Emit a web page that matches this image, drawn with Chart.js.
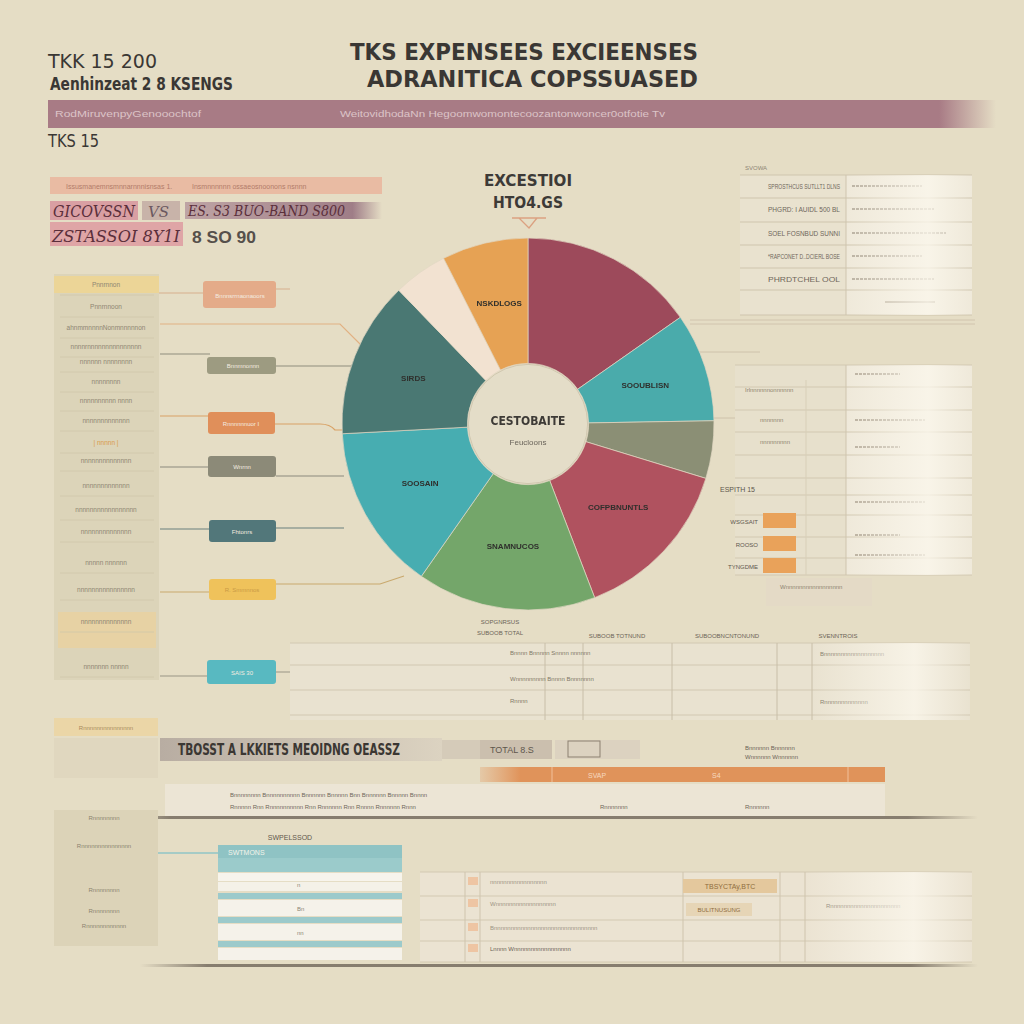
<!DOCTYPE html>
<html>
<head>
<meta charset="utf-8">
<title>TKS Expenses</title>
<script src="https://cdn.jsdelivr.net/npm/chart.js@4.4.1/dist/chart.umd.min.js"></script>
<style>
    html, body { margin: 0; padding: 0; }
    body {
        width: 1024px; height: 1024px; overflow: hidden; position: relative;
        background: #e5ddc5;
        font-family: "Liberation Sans", Arial, sans-serif;
    }
    #deco { position: absolute; left: 0; top: 0; }
    #pie { position: absolute; left: 328px; top: 224px; }
</style>
</head>
<body>
<svg id="deco" width="1024" height="1024" xmlns="http://www.w3.org/2000/svg">
    <defs>
        <linearGradient id="gPink" x1="0" x2="1">
            <stop offset="0" stop-color="#a87b85"/><stop offset="0.94" stop-color="#a87b85"/>
            <stop offset="1" stop-color="#a87b85" stop-opacity="0"/>
        </linearGradient>
        <linearGradient id="gMauve" x1="0" x2="1">
            <stop offset="0" stop-color="#b4959c" stop-opacity="0.8"/><stop offset="0.85" stop-color="#9f7d87"/>
            <stop offset="1" stop-color="#9f7d87" stop-opacity="0"/>
        </linearGradient>
        <linearGradient id="gGlow" x1="0" x2="1">
            <stop offset="0" stop-color="#fbf7ec" stop-opacity="0"/><stop offset="0.65" stop-color="#fbf7ec" stop-opacity="0.8"/>
            <stop offset="1" stop-color="#fbf7ec" stop-opacity="0"/>
        </linearGradient>
        <linearGradient id="gGray" x1="0" x2="1">
            <stop offset="0" stop-color="#b8ada2"/><stop offset="1" stop-color="#dcd3c1"/>
        </linearGradient>
        <linearGradient id="gShadow" x1="0" x2="1">
            <stop offset="0" stop-color="#675d52" stop-opacity="0"/><stop offset="0.08" stop-color="#675d52" stop-opacity="0.75"/>
            <stop offset="0.92" stop-color="#675d52" stop-opacity="0.75"/><stop offset="1" stop-color="#675d52" stop-opacity="0"/>
        </linearGradient>
        <linearGradient id="gOrange" x1="0" x2="1">
            <stop offset="0" stop-color="#e39a62" stop-opacity="0.3"/><stop offset="0.1" stop-color="#e0935a"/>
            <stop offset="1" stop-color="#e0935a"/>
        </linearGradient>
    </defs>

    <!-- heading -->
    <g font-family="'Liberation Sans Narrow','DejaVu Sans Condensed','Liberation Sans',sans-serif" fill="#3a3734">
        <text x="48" y="68" font-size="19" textLength="109" lengthAdjust="spacingAndGlyphs">TKK 15 200</text>
        <text x="50" y="90" font-size="17" font-weight="bold" textLength="183" lengthAdjust="spacingAndGlyphs">Aenhinzeat 2 8 KSENGS</text>
        <text x="350" y="60" font-size="23" font-weight="bold" textLength="348" lengthAdjust="spacingAndGlyphs">TKS  EXPENSEES EXCIEENSES</text>
        <text x="367" y="87" font-size="23" font-weight="bold" textLength="331" lengthAdjust="spacingAndGlyphs">ADRANITICA COPSSUASED</text>
        <text x="48" y="147" font-size="18" textLength="51" lengthAdjust="spacingAndGlyphs">TKS 15</text>
    </g>
    <rect x="48" y="100" width="948" height="28" fill="url(#gPink)"/>
    <g font-size="9" fill="#dcc3c7">
        <text x="55" y="117" textLength="146" lengthAdjust="spacingAndGlyphs">RodMiruvenpyGenooochtof</text>
        <text x="340" y="117" textLength="325" lengthAdjust="spacingAndGlyphs">WeitovidhodaNn Hegoomwomontecoozantonwoncer0otfotie  Tv</text>
    </g>

    <!-- top left summary -->
    <rect x="50" y="177" width="332" height="17" fill="#e9b79f" opacity="0.9"/>
    <g font-size="7" fill="#b27b6a">
        <text x="66" y="189">Issusmanemnsmnnarnnnisnsas  1.</text>
        <text x="192" y="189">Insmnnnnnn   ossaeosnoonons nsnnn</text>
    </g>
    <rect x="50" y="201" width="88" height="19" fill="#d99fa3"/>
    <rect x="142" y="201" width="38" height="19" fill="#c8b3a9"/>
    <rect x="185" y="202" width="197" height="17" fill="url(#gMauve)"/>
    <rect x="50" y="222" width="133" height="24" fill="#dfa5a6"/>
    <g font-family="'DejaVu Serif',serif" font-style="italic" fill="#5b2f3b">
        <text x="53" y="217" font-size="16" textLength="82" lengthAdjust="spacingAndGlyphs">GICOVSSN</text>
        <text x="148" y="217" font-size="15" fill="#6b5860">VS</text>
        <text x="188" y="216" font-size="14" textLength="157" lengthAdjust="spacingAndGlyphs">ES. S3   BUO-BAND S800</text>
        <text x="52" y="242" font-size="17" textLength="128" lengthAdjust="spacingAndGlyphs">ZSTASSOI 8Y1I</text>
    </g>
    <text x="192" y="243" font-size="17" font-weight="bold" fill="#56504b" textLength="64" lengthAdjust="spacingAndGlyphs">8 SO 90</text>

    <!-- chart header -->
    <g font-family="'Liberation Sans Narrow','DejaVu Sans Condensed',sans-serif" font-weight="bold" fill="#3d3a37" text-anchor="middle">
        <text x="528" y="186" font-size="16" textLength="88" lengthAdjust="spacingAndGlyphs">EXCESTIOI</text>
        <text x="528" y="208" font-size="15" textLength="70" lengthAdjust="spacingAndGlyphs">HTO4.GS</text>
    </g>
    <path d="M512 218 H546 M519 218 L529 228 L537 218" stroke="#dba181" stroke-width="1.3" fill="none"/>

    <!-- left panel -->
    <rect x="54" y="274" width="105" height="406" fill="#dcd4b9"/>
    <rect x="54" y="276" width="105" height="17" fill="#f0d58e" opacity="0.8"/>
    <rect x="58" y="612" width="98" height="36" fill="#f0cf94" opacity="0.55"/>
    <g id="leftRows"></g>

    <!-- connectors -->
    <g fill="none" stroke-width="1.2">
        <path d="M159 293 H203 M276 289 H290" stroke="#d8b08e"/>
        <path d="M160 324 H340 L362 346" stroke="#e1b183"/>
        <path d="M160 354 H210 M276 366 H352" stroke="#8f8d7e"/>
        <path d="M160 416 H208 M275 424 H320 Q330 424 335 430 H346" stroke="#d9a266"/>
        <path d="M160 467 H208 M276 476 H344" stroke="#8c8a7e"/>
        <path d="M160 529 H209 M276 528 H344" stroke="#6a807e"/>
        <path d="M160 592 H209 M276 584 H380 L404 576" stroke="#c9a96e"/>
        <path d="M160 676 H207 M276 672 H292 V700" stroke="#9a9585"/>
        <path d="M690 320 H975 M690 324 H975" stroke="#cdbfa8" stroke-width="0.8"/>
        <path d="M712 418 H745 M700 352 H760" stroke="#c9bca4" stroke-width="0.8"/>
    </g>
    <g>
        <rect x="203" y="281" width="73" height="27" rx="3" fill="#e4ab89"/>
        <rect x="207" y="357" width="69" height="17" rx="3" fill="#9d9b81"/>
        <rect x="208" y="412" width="67" height="22" rx="3" fill="#e08f5a"/>
        <rect x="208" y="456" width="68" height="21" rx="3" fill="#8c8a78"/>
        <rect x="209" y="520" width="67" height="22" rx="3" fill="#52777a"/>
        <rect x="209" y="579" width="67" height="21" rx="3" fill="#efc25b"/>
        <rect x="207" y="660" width="69" height="24" rx="3" fill="#58b9c1"/>
    </g>
    <g font-size="6" fill="#f4ece0" text-anchor="middle">
        <text x="240" y="298">Bnnnsrrnaonaoors</text>
        <text x="243" y="368">Bnnmnonnn</text>
        <text x="241" y="426">Rnnnnnnuor  I</text>
        <text x="242" y="469">Wnrnn</text>
        <text x="242" y="534">Fhtonrs</text>
        <text x="242" y="592" fill="#c99a45">R. Smmnnos</text>
        <text x="242" y="675">SAIS 30</text>
    </g>

    <!-- right tables -->
    <g id="rightTables"></g>

    <!-- lower area -->
    <g id="lowerTables"></g>
</svg>
<canvas id="pie" width="400" height="400"></canvas>

<script>
// ---- chart data ----
const sliceLabels = ['', 'SOOUBLISN', '', 'COFPBNUNTLS', 'SNAMNUCOS', 'SOOSAIN', 'SIRDS', '', 'NSKDLOGS'];
const expenseValues = [55, 34, 18, 52, 56, 52, 49, 17, 27];
const sliceColors = ['#9d4a5b', '#4aabab', '#8b8f75', '#b0525f', '#74a66a', '#47adb1', '#4a7873', '#f2e2d1', '#e6a254'];
const centerTitle = 'CESTOBAITE';
const centerSub = 'Feucloons';

const NS = 'http://www.w3.org/2000/svg';

function svgEl(parent, tag, attrs, text) {
    const el = document.createElementNS(NS, tag);
    for (const k in attrs) el.setAttribute(k, attrs[k]);
    if (text !== undefined) el.textContent = text;
    parent.appendChild(el);
    return el;
}

// 左侧面板的模糊文字行
function drawLeftRows() {
    const g = document.getElementById('leftRows');
    const rows = [
        [285, 'Pnnrnnon'], [307, 'Pnnrnnoon'], [328, 'ahnmmnnnnNonmnnnnnon'], [347, 'nnnnrnnnnnnnnnnnnnnn'],
        [362, 'nnnnnn nnnnnnnn'], [382, 'nnnnnnnn'], [401, 'nnnnnnnnnn nnnn'], [421, 'nnnnnnnnnnnnn'],
        [443, '| nnnnn |'], [461, 'nnnnnnnnnnnnnn'], [486, 'nnnnnnnnnnnnn'], [510, 'nnnnnnnnnnnnnnnnn'],
        [532, 'nnnnnnnnnnnnnn'], [563, 'nnnnn  nnnnnn'], [590, 'nnnnnnnnnnnnnnnn'], [622, 'nnnnnnnnnnnnnn'],
        [667, 'nnnnnnn  nnnnn']
    ];
    rows.forEach(([y, t], i) => {
        svgEl(g, 'text', { x: 106, y: y + 2, 'font-size': 6.5, fill: i === 8 ? '#d99a4a' : '#8e8672', 'text-anchor': 'middle' }, t);
        svgEl(g, 'line', { x1: 60, x2: 154, y1: y + 10, y2: y + 10, stroke: '#cfc6aa', 'stroke-width': 0.8 });
    });
}

// 右侧两张表
function drawRightTables() {
    const g = document.getElementById('rightTables');
    svgEl(g, 'rect', { x: 740, y: 175, width: 232, height: 140, fill: '#e9e2cf' });
    svgEl(g, 'rect', { x: 846, y: 175, width: 126, height: 140, fill: '#efe9da' });
    svgEl(g, 'text', { x: 745, y: 170, 'font-size': 6, fill: '#8d8573' }, 'SVOWA');
    const r1 = [175, 198, 222, 245, 268, 290, 315];
    const l1 = ['SPROSTHCUS SUTLLT1 DLNS', 'PHGRD: I AUIDL 500 BL', 'SOEL FOSNBUD SUNNI', '*RAPCONET D..DCIERL BOSE', 'PHRDTCHEL OOL', ''];
    r1.forEach((y, i) => {
        svgEl(g, 'line', { x1: 740, x2: 972, y1: y, y2: y, stroke: '#cfc5ae', 'stroke-width': 1 });
        if (i < l1.length && l1[i]) {
            svgEl(g, 'text', { x: 840, y: y + 14, 'font-size': 7, fill: '#6f675b', 'text-anchor': 'end', textLength: 72, lengthAdjust: 'spacingAndGlyphs' }, l1[i]);
            svgEl(g, 'line', { x1: 852, x2: 852 + 70 + (i % 3) * 12, y1: y + 11, y2: y + 11, stroke: '#b9b0a0', 'stroke-width': 2, 'stroke-dasharray': '3 1' });
        }
    });
    svgEl(g, 'line', { x1: 846, x2: 846, y1: 175, y2: 315, stroke: '#cfc5ae' });
    svgEl(g, 'line', { x1: 885, x2: 935, y1: 302, y2: 302, stroke: '#c0b6a4', 'stroke-width': 2 });
    svgEl(g, 'rect', { x: 846, y: 175, width: 126, height: 140, fill: 'url(#gGlow)' });

    // 第二张表
    svgEl(g, 'rect', { x: 735, y: 365, width: 237, height: 210, fill: '#e7e0cc' });
    svgEl(g, 'rect', { x: 846, y: 365, width: 126, height: 210, fill: '#efe9da' });
    const r2 = [365, 387, 410, 432, 455, 478, 495, 515, 537, 558, 575];
    r2.forEach(y => svgEl(g, 'line', { x1: 735, x2: 972, y1: y, y2: y, stroke: '#d2c8b1' }));
    svgEl(g, 'line', { x1: 846, x2: 846, y1: 365, y2: 575, stroke: '#cfc5ae' });
    svgEl(g, 'line', { x1: 806, x2: 806, y1: 380, y2: 575, stroke: '#d8cfb8' });
    [[372], [418], [445], [500], [533], [553]].forEach(([y], i) => {
        svgEl(g, 'line', { x1: 855, x2: 900 + (i % 2) * 25, y1: y + 2, y2: y + 2, stroke: '#b8ae9d', 'stroke-width': 2, 'stroke-dasharray': '3 1' });
    });
    svgEl(g, 'text', { x: 745, y: 392, 'font-size': 6, fill: '#8c8470' }, 'Irlnnnnnnonnnnnn');
    svgEl(g, 'text', { x: 760, y: 422, 'font-size': 6, fill: '#8c8470' }, 'nnnnnnn');
    svgEl(g, 'text', { x: 760, y: 444, 'font-size': 6, fill: '#8c8470' }, 'nnnnnnnnn');
    svgEl(g, 'text', { x: 720, y: 492, 'font-size': 7, fill: '#5e574d' }, 'ESPITH 15');
    [['WSGSAIT', 521], ['ROOSO', 544], ['TYNGDME', 566]].forEach(([t, y]) => {
        svgEl(g, 'text', { x: 758, y: y + 3, 'font-size': 6, fill: '#5e574d', 'text-anchor': 'end' }, t);
        svgEl(g, 'rect', { x: 763, y: y - 8, width: 33, height: 15, fill: '#e9a25a' });
    });
    svgEl(g, 'rect', { x: 766, y: 578, width: 106, height: 28, fill: '#e4dac6' });
    svgEl(g, 'text', { x: 780, y: 589, 'font-size': 6, fill: '#8d8470' }, 'Wnnnnnnnnnnnnnnnnn');
    svgEl(g, 'rect', { x: 846, y: 365, width: 126, height: 210, fill: 'url(#gGlow)' });
}

// 下方表格与装饰
function drawLowerTables() {
    const g = document.getElementById('lowerTables');
    // 中部表
    svgEl(g, 'rect', { x: 290, y: 643, width: 680, height: 77, fill: '#e9e2d0' });
    svgEl(g, 'text', { x: 500, y: 624, 'font-size': 6, fill: '#6b6356', 'text-anchor': 'middle' }, 'SOPGNRSUS');
    svgEl(g, 'text', { x: 500, y: 635, 'font-size': 6, fill: '#6b6356', 'text-anchor': 'middle' }, 'SUBOOB TOTAL');
    [['SUBOOB TOTNUND', 617], ['SUBOOBNCNTONUND', 727], ['SVENNTROIS', 838]].forEach(([t, x]) => {
        svgEl(g, 'text', { x: x, y: 638, 'font-size': 6, fill: '#6b6356', 'text-anchor': 'middle' }, t);
    });
    [643, 665, 690, 715].forEach(y => svgEl(g, 'line', { x1: 290, x2: 970, y1: y, y2: y, stroke: '#d2c8b2' }));
    [545, 583, 672, 777, 812].forEach(x => svgEl(g, 'line', { x1: x, x2: x, y1: 643, y2: 720, stroke: '#c8bea8' }));
    [[652, 'Bnnnn  Bnnnnn  Snnnn nnnnnn'], [678, 'Wnnnnnnnnn   Bnnnn  Bnnnnnnn'], [700, 'Rnnnn']].forEach(([y, t]) => {
        svgEl(g, 'text', { x: 510, y: y + 3, 'font-size': 6, fill: '#807866' }, t);
    });
    svgEl(g, 'text', { x: 820, y: 656, 'font-size': 6, fill: '#807866' }, 'Bnnnnnnnnnnnnnnnnnn');
    svgEl(g, 'text', { x: 820, y: 704, 'font-size': 6, fill: '#807866' }, 'Rnnnnnnnnnnnnn');
    svgEl(g, 'rect', { x: 812, y: 643, width: 158, height: 77, fill: 'url(#gGlow)' });

    // 左下小框
    svgEl(g, 'rect', { x: 54, y: 718, width: 104, height: 18, fill: '#eed39a', opacity: 0.7 });
    svgEl(g, 'rect', { x: 54, y: 738, width: 104, height: 40, fill: '#e0d7bf' });
    svgEl(g, 'text', { x: 106, y: 730, 'font-size': 6, fill: '#a98b5c', 'text-anchor': 'middle' }, 'Rnnnnnnnnnnnnnnn');

    // 灰色长条
    svgEl(g, 'rect', { x: 160, y: 738, width: 282, height: 23, fill: 'url(#gGray)' });
    svgEl(g, 'text', { x: 178, y: 755, 'font-size': 15, 'font-weight': 'bold', fill: '#3b3733',
        'font-family': "'Liberation Sans Narrow','DejaVu Sans Condensed',sans-serif", textLength: 222, lengthAdjust: 'spacingAndGlyphs' },
        'TBOSST A LKKIETS  MEOIDNG  OEASSZ');
    svgEl(g, 'rect', { x: 442, y: 740, width: 38, height: 19, fill: '#d5cbb9' });
    svgEl(g, 'rect', { x: 480, y: 740, width: 72, height: 19, fill: '#cbbfae' });
    svgEl(g, 'text', { x: 490, y: 753, 'font-size': 9, fill: '#5e564c' }, 'TOTAL 8.S');
    svgEl(g, 'rect', { x: 555, y: 740, width: 85, height: 19, fill: '#dcd2c0' });
    svgEl(g, 'rect', { x: 568, y: 741, width: 32, height: 16, fill: 'none', stroke: '#8c8070' });
    svgEl(g, 'text', { x: 745, y: 750, 'font-size': 6, fill: '#6b6356' }, 'Bnnnnnn  Bnnnnnn');
    svgEl(g, 'text', { x: 745, y: 759, 'font-size': 6, fill: '#6b6356' }, 'Wnnnnnn  Wnnnnnn');
    svgEl(g, 'rect', { x: 480, y: 767, width: 405, height: 15, fill: 'url(#gOrange)' });
    svgEl(g, 'line', { x1: 552, x2: 552, y1: 767, y2: 782, stroke: '#f1c09a' });
    svgEl(g, 'line', { x1: 848, x2: 848, y1: 767, y2: 782, stroke: '#f1c09a' });
    svgEl(g, 'text', { x: 588, y: 778, 'font-size': 7, fill: '#f6d9c0' }, 'SVAP');
    svgEl(g, 'text', { x: 712, y: 778, 'font-size': 7, fill: '#f6d9c0' }, 'S4');
    svgEl(g, 'rect', { x: 165, y: 784, width: 720, height: 32, fill: '#ece5d5' });
    svgEl(g, 'text', { x: 230, y: 797, 'font-size': 6, fill: '#6f675a' }, 'Bnnnnnnnn  Bnnnnnnnnnn  Bnnnnnn  Bnnnnn  Bnn  Bnnnnnn  Bnnnnn  Bnnnn');
    svgEl(g, 'text', { x: 230, y: 809, 'font-size': 6, fill: '#6f675a' }, 'Rnnnnn  Rnn  Rnnnnnnnnnn  Rnn  Rnnnnnn  Rnn  Rnnnn  Rnnnnnn  Rnnn');
    svgEl(g, 'text', { x: 600, y: 809, 'font-size': 6, fill: '#6f675a' }, 'Rnnnnnnn');
    svgEl(g, 'text', { x: 745, y: 809, 'font-size': 6, fill: '#6f675a' }, 'Rnnnnnn');
    svgEl(g, 'rect', { x: 100, y: 816, width: 878, height: 3, fill: 'url(#gShadow)' });

    // 左下面板
    svgEl(g, 'rect', { x: 54, y: 810, width: 104, height: 136, fill: '#dcd3b8' });
    [[820, 'Rnnnnnnnn'], [848, 'Rnnnnnnnnnnnnnnn'], [892, 'Rnnnnnnnn'], [913, 'Rnnnnnnnn'], [928, 'Rnnnnnnnnnnnn']].forEach(([y, t]) => {
        svgEl(g, 'text', { x: 104, y: y, 'font-size': 6, fill: '#8b836f', 'text-anchor': 'middle' }, t);
    });
    svgEl(g, 'line', { x1: 158, x2: 218, y1: 853, y2: 853, stroke: '#8fc4c6', 'stroke-width': 1.5 });

    // 蓝色条纹表
    svgEl(g, 'text', { x: 290, y: 840, 'font-size': 7, fill: '#5f584c', 'text-anchor': 'middle' }, 'SWPELSSOD');
    svgEl(g, 'rect', { x: 218, y: 845, width: 184, height: 27, fill: '#8fc3c4' });
    svgEl(g, 'rect', { x: 218, y: 858, width: 184, height: 14, fill: '#9bcbcb' });
    svgEl(g, 'text', { x: 228, y: 855, 'font-size': 7, fill: '#f3f3ea' }, 'SWTMONS');
    const stripes = [[873, 8, '#f7f4ec'], [882, 9, '#f4f1e8'], [893, 6, '#9ccacb'], [900, 16, '#f5f2ea'],
        [917, 6, '#9ccacb'], [924, 16, '#f5f2ea'], [941, 6, '#9ccacb'], [948, 12, '#f5f2ea']];
    stripes.forEach(([y, h, c]) => svgEl(g, 'rect', { x: 218, y: y, width: 184, height: h, fill: c }));
    [[883, 'n'], [907, 'Bn'], [931, 'nn']].forEach(([y, t]) => svgEl(g, 'text', { x: 297, y: y + 4, 'font-size': 6, fill: '#8c8575' }, t));

    // 右下表
    svgEl(g, 'rect', { x: 420, y: 872, width: 552, height: 90, fill: '#ebe3d2' });
    [872, 896, 920, 941, 962].forEach(y => svgEl(g, 'line', { x1: 420, x2: 972, y1: y, y2: y, stroke: '#d3c9b2' }));
    [465, 480, 683, 780, 805].forEach(x => svgEl(g, 'line', { x1: x, x2: x, y1: 872, y2: 962, stroke: '#cfc4ad' }));
    svgEl(g, 'rect', { x: 683, y: 879, width: 94, height: 14, fill: '#e4c89d' });
    svgEl(g, 'text', { x: 730, y: 889, 'font-size': 7, fill: '#8f6d3e', 'text-anchor': 'middle' }, 'TBSYCTAy,BTC');
    svgEl(g, 'rect', { x: 686, y: 903, width: 66, height: 13, fill: '#e6d5b6' });
    svgEl(g, 'text', { x: 719, y: 912, 'font-size': 6, fill: '#8f6d3e', 'text-anchor': 'middle' }, 'BULITNUSUNG');
    [[884, 'nnnnnnnnnnnnnnnnn'], [906, 'Wnnnnnnnnnnnnnnnnnn'], [930, 'Bnnnnnnnnnnnnnnnnnnnnnnnnnnnnnnn'], [951, 'Lnnnn Wnnnnnnnnnnnnnnnnn']].forEach(([y, t], i) => {
        svgEl(g, 'text', { x: 490, y: y, 'font-size': 6, fill: i === 3 ? '#6a6255' : '#9c9484' }, t);
        svgEl(g, 'rect', { x: 468, y: y - 7, width: 10, height: 8, fill: '#efb88e', opacity: 0.7 });
    });
    svgEl(g, 'text', { x: 826, y: 908, 'font-size': 6, fill: '#8c8474' }, 'Rnnnnnnnnnnnnnnnnnnnnn');
    svgEl(g, 'rect', { x: 805, y: 872, width: 167, height: 90, fill: 'url(#gGlow)' });
    svgEl(g, 'rect', { x: 140, y: 964, width: 838, height: 3, fill: 'url(#gShadow)' });
}

// 甜甜圈图
function initPieChart() {
    const pieCanvas = document.getElementById('pie');
    if (!pieCanvas || typeof Chart === 'undefined') return;

    const sliceText = {
        id: 'sliceText',
        afterDatasetsDraw(chart) {
            const ctx = chart.ctx;
            const meta = chart.getDatasetMeta(0);
            ctx.save();
            ctx.textAlign = 'center';
            ctx.textBaseline = 'middle';
            ctx.font = 'bold 8px "Liberation Sans", sans-serif';
            ctx.fillStyle = '#2f2f2c';
            meta.data.forEach((arc, i) => {
                if (!sliceLabels[i]) return;
                const p = arc.tooltipPosition();
                ctx.fillText(sliceLabels[i], p.x, p.y);
            });
            const c = meta.data[0];
            ctx.fillStyle = '#e4ddc8';
            ctx.strokeStyle = 'rgba(200,190,165,0.7)';
            ctx.lineWidth = 1;
            ctx.beginPath();
            ctx.arc(c.x, c.y, c.innerRadius - 1, 0, Math.PI * 2);
            ctx.fill();
            ctx.stroke();
            ctx.fillStyle = '#3d3a36';
            ctx.font = 'bold 12px "Liberation Sans Narrow", "DejaVu Sans Condensed", sans-serif';
            ctx.fillText(centerTitle, c.x, c.y - 2);
            ctx.font = '8px "Liberation Sans", sans-serif';
            ctx.fillStyle = '#6a645a';
            ctx.fillText(centerSub, c.x, c.y + 19);
            ctx.restore();
        }
    };

    new Chart(pieCanvas.getContext('2d'), {
        type: 'doughnut',
        data: {
            labels: sliceLabels,
            datasets: [{
                data: expenseValues,
                backgroundColor: sliceColors,
                borderColor: 'rgba(225,215,195,0.7)',
                borderWidth: 1
            }]
        },
        options: {
            responsive: false,
            animation: false,
            radius: 186,
            cutout: 65,
            layout: { padding: 0 },
            plugins: { legend: { display: false }, tooltip: { enabled: false } }
        },
        plugins: [sliceText]
    });
}

drawLeftRows();
drawRightTables();
drawLowerTables();
initPieChart();
</script>
</body>
</html>
